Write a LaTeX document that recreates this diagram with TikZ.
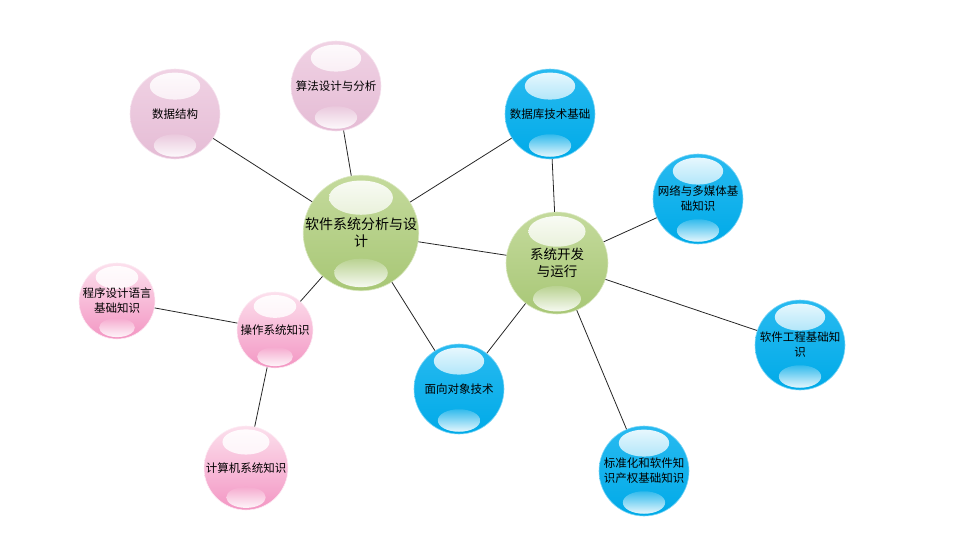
\documentclass[tikz,border=0pt]{standalone}
\usepackage{fontspec}
\setmainfont{Noto Sans CJK SC}
\usetikzlibrary{calc}
\definecolor{softpinktop}{RGB}{240,210,228}
\definecolor{softpinkbot}{RGB}{229,188,213}
\definecolor{hotpinktop}{RGB}{252,224,237}
\definecolor{hotpinkbot}{RGB}{243,150,195}
\definecolor{greentop}{RGB}{196,218,156}
\definecolor{greenbot}{RGB}{168,199,118}
\definecolor{bluetop}{RGB}{40,186,240}
\definecolor{bluebot}{RGB}{0,170,232}

\tikzset{
  bubble/.style n args={3}{circle, inner sep=0pt, align=center,
    minimum size={2*#1pt}, top color=#2, bottom color=#3,
    draw=white!40!#2, line width=0.6pt,
    font=\fontsize{11.5}{15}\selectfont,
    path picture={
      % upper gloss
      \shade[top color=white!92!#2, bottom color=white!10!#2]
        ($(path picture bounding box.center)+(0,{-0.62*#1})$)
        ellipse [x radius={0.56*#1pt}, y radius={0.3*#1pt}];
      % lower gloss
      \shade[top color=white!20!#3, bottom color=white!90!#3]
        ($(path picture bounding box.center)+(0,{0.7*#1})$)
        ellipse [x radius={0.47*#1pt}, y radius={0.25*#1pt}];
    }},
  softpink/.style={bubble={#1}{softpinktop}{softpinkbot}},
  hotpink/.style={bubble={#1}{hotpinktop}{hotpinkbot}},
  greenball/.style={bubble={#1}{greentop}{greenbot}},
  blueball/.style={bubble={#1}{bluetop}{bluebot}},
  link/.style={draw=black!85, line width=0.8pt},
}

\begin{document}
\begin{tikzpicture}[x=1pt, y=-1pt]
\useasboundingbox (0,0) rectangle (971,546);

% centre topics
\node[greenball=57, font=\fontsize{14}{17}\selectfont] (design) at (361,233) {软件系统分析与设\\计};
\node[greenball=51, font=\fontsize{13.5}{17}\selectfont] (devrun) at (557,263) {系统开发\\与运行};

% left group
\node[softpink=45] (datastruct) at (175,114) {数据结构};
\node[softpink=45] (algo) at (336,86) {算法设计与分析};
\node[hotpink=38] (os) at (275,330) {操作系统知识};
\node[hotpink=38] (proglang) at (117,301) {程序设计语言\\基础知识};
\node[hotpink=42] (compsys) at (246,468) {计算机系统知识};

% right group
\node[blueball=45] (database) at (550,114) {数据库技术基础};
\node[blueball=45] (network) at (698,199) {网络与多媒体基\\础知识};
\node[blueball=45] (softeng) at (800,345) {软件工程基础知\\识};
\node[blueball=45] (standard) at (644,471) {标准化和软件知\\识产权基础知识};
\node[blueball=45] (oop) at (459,389) {面向对象技术};

% connectors
\draw[link] (datastruct) -- (design);
\draw[link] (algo) -- (design);
\draw[link] (design) -- (database);
\draw[link] (design) -- (devrun);
\draw[link] (design) -- (oop);
\draw[link] (design) -- (os);
\draw[link] (database) -- (devrun);
\draw[link] (network) -- (devrun);
\draw[link] (devrun) -- (softeng);
\draw[link] (devrun) -- (standard);
\draw[link] (devrun) -- (oop);
\draw[link] (os) -- (proglang);
\draw[link] (os) -- (compsys);

\end{tikzpicture}
\end{document}
